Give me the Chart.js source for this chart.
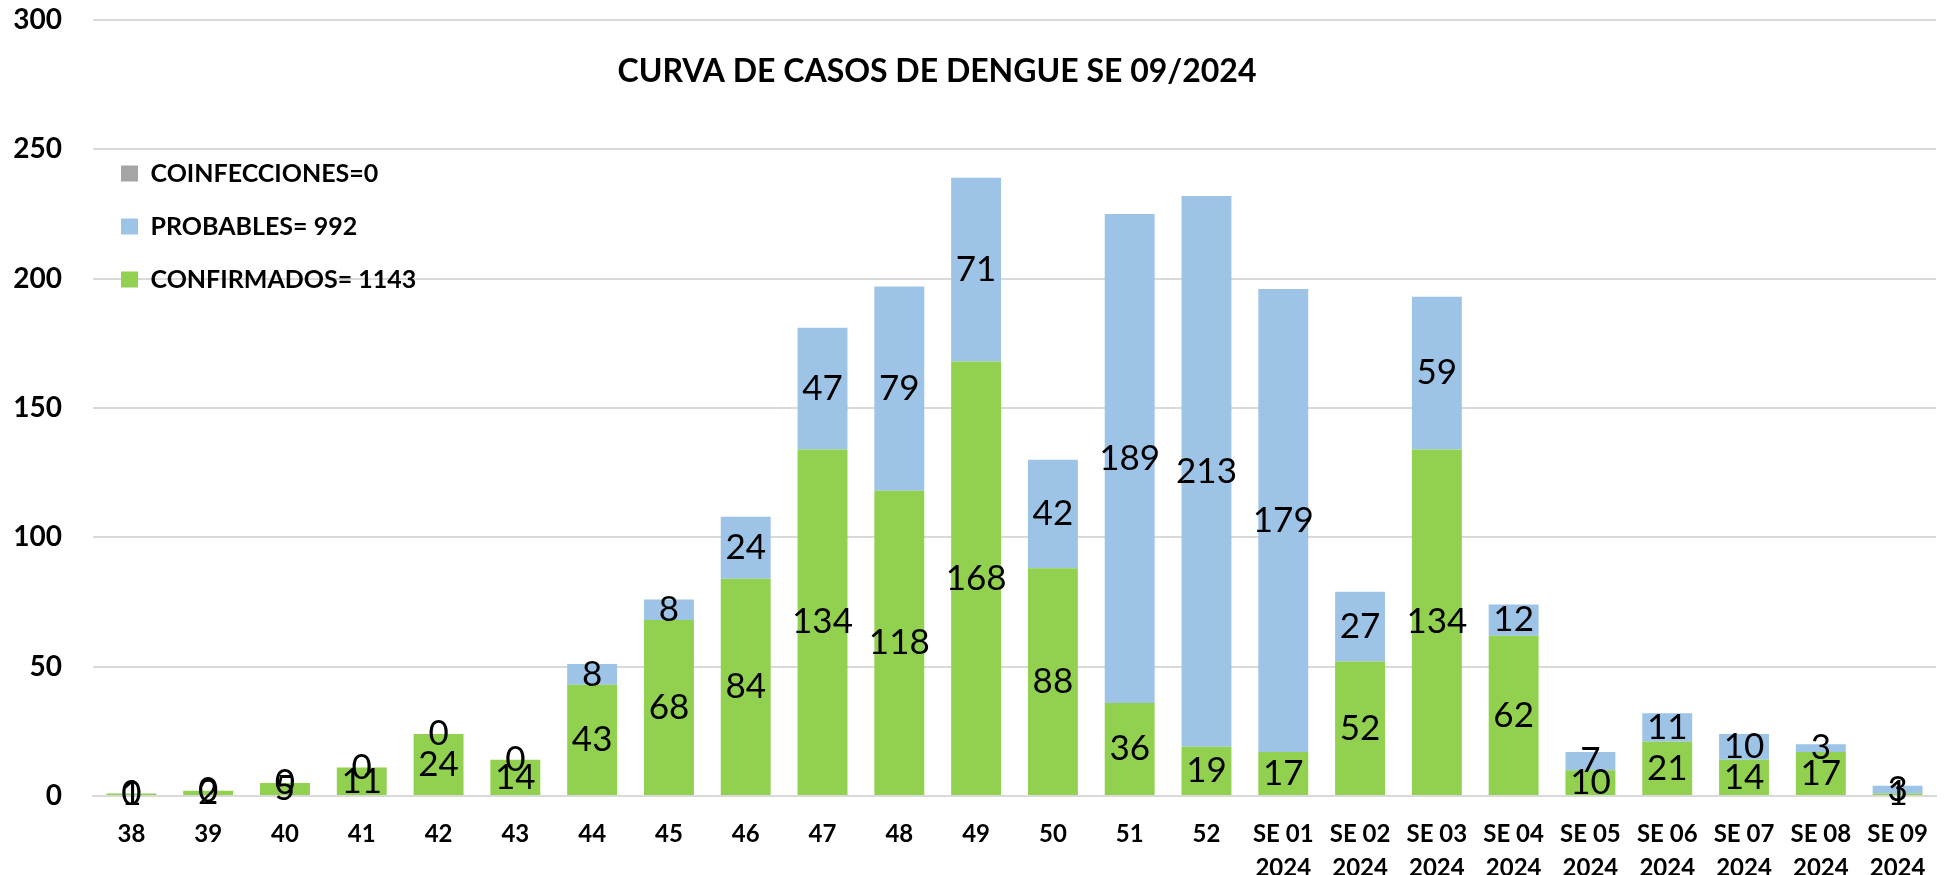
<!DOCTYPE html>
<html>
<head>
<meta charset="utf-8">
<script src="https://cdn.jsdelivr.net/npm/chart.js@4.4.1/dist/chart.umd.min.js"></script>
<style>
  html, body { margin: 0; padding: 0; background: #ffffff; }
  #wrap { width: 1944px; height: 875px; position: relative; }
</style>
</head>
<body>
<div id="wrap"><canvas id="myChart"></canvas></div>
<script>
// semanas epidemiologicas
const semanas = ['38', '39', '40', '41', '42', '43', '44', '45', '46', '47', '48', '49', '50', '51', '52',
    ['SE 01', '2024'], ['SE 02', '2024'], ['SE 03', '2024'], ['SE 04', '2024'], ['SE 05', '2024'],
    ['SE 06', '2024'], ['SE 07', '2024'], ['SE 08', '2024'], ['SE 09', '2024']];

// casos por semana
const confirmados = [1, 2, 5, 11, 24, 14, 43, 68, 84, 134, 118, 168, 88, 36, 19, 17, 52, 134, 62, 10, 21, 14, 17, 1];
const probables = [0, 0, 0, 0, 0, 0, 8, 8, 24, 47, 79, 71, 42, 189, 213, 179, 27, 59, 12, 7, 11, 10, 3, 3];
const coinfecciones = [0, 0, 0, 0, 0, 0, 0, 0, 0, 0, 0, 0, 0, 0, 0, 0, 0, 0, 0, 0, 0, 0, 0, 0];

const titulo = 'CURVA DE CASOS DE DENGUE SE 09/2024';
const ticksY = [0, 50, 100, 150, 200, 250, 300];

const fuente = 'Lato, "Open Sans", sans-serif';

// titulo dentro del area del grafico
const tituloPlugin = {
    id: 'tituloPlugin',
    afterDraw(chart) {
        const ctx = chart.ctx;
        ctx.save();
        ctx.font = 'bold 32px ' + fuente;
        ctx.fillStyle = '#000000';
        ctx.textAlign = 'center';
        ctx.textBaseline = 'middle';
        ctx.fillText(titulo, 937, 72);
        ctx.restore();
    }
};

// etiquetas de valores centradas en cada segmento
const etiquetasPlugin = {
    id: 'etiquetasPlugin',
    afterDatasetsDraw(chart) {
        const ctx = chart.ctx;
        ctx.save();
        ctx.font = '35px ' + fuente;
        ctx.fillStyle = '#000000';
        ctx.textAlign = 'center';
        ctx.textBaseline = 'middle';
        [0, 1].forEach(i => {
            const meta = chart.getDatasetMeta(i);
            meta.data.forEach((bar, j) => {
                const valor = chart.data.datasets[i].data[j];
                ctx.fillText(String(valor), bar.x, (bar.y + bar.base) / 2);
            });
        });
        ctx.restore();
    }
};

const ctx = document.getElementById('myChart').getContext('2d');

const myChart = new Chart(ctx, {
    type: 'bar',
    data: {
        labels: semanas,
        datasets: [{
            label: 'CONFIRMADOS= 1143',
            data: confirmados,
            backgroundColor: '#92D050',
            borderWidth: 0
        }, {
            label: 'PROBABLES= 992',
            data: probables,
            backgroundColor: '#9DC3E6',
            borderWidth: 0
        }, {
            label: 'COINFECCIONES=0',
            data: coinfecciones,
            backgroundColor: '#A5A5A5',
            borderWidth: 0
        }]
    },
    options: {
        responsive: true,
        maintainAspectRatio: false,
        animation: false,
        devicePixelRatio: 1,
        layout: {
            padding: { top: 20, right: 8, left: 0, bottom: 0 }
        },
        datasets: {
            bar: {
                categoryPercentage: 1,
                barPercentage: 0.65
            }
        },
        scales: {
            x: {
                stacked: true,
                grid: { display: false },
                border: { display: true, color: '#D9D9D9', width: 2 },
                ticks: {
                    color: '#000000',
                    font: { family: fuente, size: 24, weight: 'bold', lineHeight: 1.42 },
                    padding: 13,
                    maxRotation: 0,
                    autoSkip: false
                },
                afterFit(scale) { scale.height = 79; }
            },
            y: {
                stacked: true,
                min: 0,
                max: 300,
                afterBuildTicks(scale) {
                    scale.ticks = ticksY.map(v => ({ value: v }));
                },
                grid: { color: '#D9D9D9', lineWidth: 2, drawTicks: false },
                border: { display: false },
                ticks: {
                    color: '#000000',
                    font: { family: fuente, size: 28, weight: 'bold', lineHeight: 1 },
                    padding: 31
                },
                afterFit(scale) {
                    scale.width = 93;
                    // el padding de las etiquetas no debe empujar el area hacia abajo
                    scale.paddingTop = 14;
                    scale.paddingBottom = 14;
                }
            }
        },
        plugins: {
            legend: {
                display: true,
                position: 'chartArea',
                fullSize: false,
                align: 'start',
                reverse: true,
                title: {
                    display: true,
                    text: '',
                    font: { size: 10 },
                    padding: { top: 121, bottom: 0 }
                },
                labels: {
                    color: '#000000',
                    boxWidth: 17,
                    boxHeight: 16,
                    padding: 28,
                    font: { family: fuente, size: 25, weight: 'bold' }
                }
            },
            tooltip: { enabled: false }
        }
    },
    plugins: [tituloPlugin, etiquetasPlugin]
});
</script>
</body>
</html>
